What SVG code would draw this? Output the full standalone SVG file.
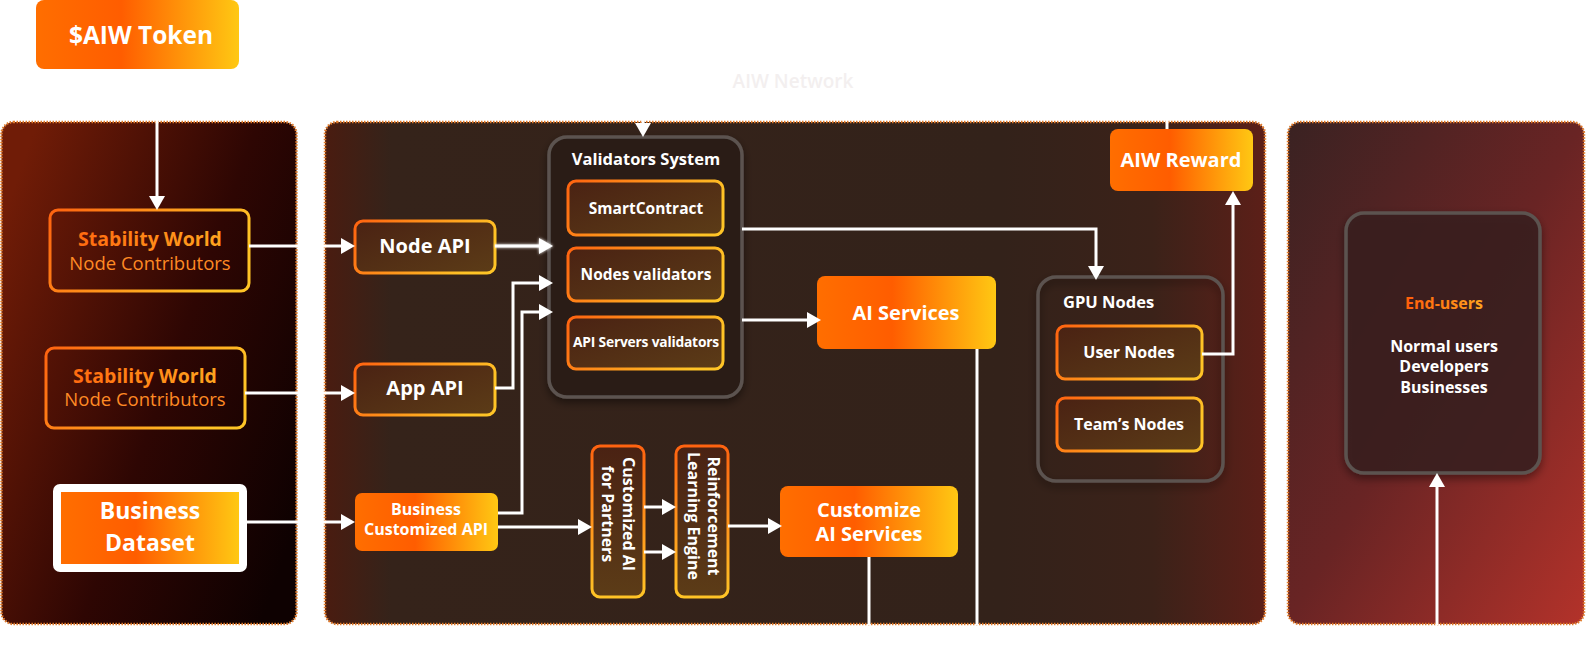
<svg xmlns="http://www.w3.org/2000/svg" width="1586" height="663" viewBox="0 0 1586 663">
<defs>
<linearGradient id="lp" x1="0" y1="0.2" x2="1" y2="0.8"><stop offset="0" stop-color="#701c07"/><stop offset="0.55" stop-color="#2e0603"/><stop offset="1" stop-color="#0e0101"/></linearGradient>
<linearGradient id="mp" x1="0" y1="0" x2="1" y2="0"><stop offset="0" stop-color="#4a1c10"/><stop offset="0.07" stop-color="#35231a"/><stop offset="0.72" stop-color="#33221a"/><stop offset="0.88" stop-color="#3b2219"/><stop offset="1" stop-color="#5c1f18"/></linearGradient>
<linearGradient id="rp" x1="0" y1="0" x2="1" y2="1"><stop offset="0" stop-color="#3a2222"/><stop offset="0.5" stop-color="#692424"/><stop offset="1" stop-color="#b3322a"/></linearGradient>
<linearGradient id="og" x1="0" y1="0" x2="1" y2="0"><stop offset="0" stop-color="#ff6e00"/><stop offset="0.42" stop-color="#ff5d00"/><stop offset="1" stop-color="#ffc813"/></linearGradient>
<linearGradient id="os" x1="0" y1="0" x2="1" y2="0.3"><stop offset="0" stop-color="#ff6310"/><stop offset="1" stop-color="#ffc426"/></linearGradient>
<linearGradient id="osv" x1="0" y1="0" x2="0" y2="1"><stop offset="0" stop-color="#ff6310"/><stop offset="1" stop-color="#ffc426"/></linearGradient>
<linearGradient id="df" x1="0" y1="0" x2="1" y2="1"><stop offset="0" stop-color="#4a2213"/><stop offset="1" stop-color="#5c3c17"/></linearGradient>
<linearGradient id="dfv" x1="0" y1="0" x2="0" y2="1"><stop offset="0" stop-color="#4a2213"/><stop offset="1" stop-color="#5c3c17"/></linearGradient>
<linearGradient id="tg" x1="0" y1="0" x2="1" y2="0"><stop offset="0" stop-color="#ff6a10"/><stop offset="1" stop-color="#ffa51f"/></linearGradient>
<linearGradient id="eg" x1="0" y1="0" x2="1" y2="0"><stop offset="0" stop-color="#ff5d0a"/><stop offset="1" stop-color="#ffa51f"/></linearGradient>
<filter id="sh" x="-20%" y="-20%" width="140%" height="140%"><feDropShadow dx="0" dy="4" stdDeviation="4" flood-color="#000" flood-opacity="0.45"/></filter>
<filter id="glow" filterUnits="userSpaceOnUse" x="485" y="228" width="80" height="36"><feGaussianBlur stdDeviation="1.5" result="b"/><feMerge><feMergeNode in="b"/><feMergeNode in="SourceGraphic"/></feMerge></filter>
<marker id="ah" markerUnits="userSpaceOnUse" markerWidth="16" markerHeight="18" refX="8" refY="8" orient="auto"><path d="M0,0 L14,8 L0,16 z" fill="#ffffff"/></marker>
<style>
.t{font-family:"Open Sans","Liberation Sans",sans-serif;}
.w{fill:#ffffff;font-weight:700;}
.c{text-anchor:middle;}
.panel{stroke:#e07a2a;stroke-width:2.5;stroke-dasharray:1.5 1.5;}
.ob{fill:url(#df);stroke:url(#os);stroke-width:3;}
.obv{fill:url(#dfv);stroke:url(#osv);stroke-width:3;}
.fb{fill:url(#og);}
.grp{stroke:#5b5350;stroke-width:3.5;}
.ln{fill:none;stroke:#ffffff;stroke-width:3;}
.ar{marker-end:url(#ah);}
</style>
</defs>
<rect width="1586" height="663" fill="#ffffff"/>
<text class="t c" x="793" y="88" font-size="19" font-weight="600" fill="#f3efef">AIW Network</text>

<g id="panels">
<rect id="panel-left" class="panel" x="1.5" y="122" width="295" height="502" rx="12" fill="url(#lp)"/>
<rect id="panel-middle" class="panel" x="325" y="122" width="940" height="502" rx="12" fill="url(#mp)"/>
<rect id="panel-right" class="panel" x="1288" y="122" width="296" height="502" rx="12" fill="url(#rp)"/>
</g>

<g id="token">
<rect class="fb" x="36" y="0" width="203" height="69" rx="8"/>
<text class="t c w" x="141" y="44" font-size="24.5">$AIW Token</text>
</g>

<g id="stability-1">
<rect x="50" y="210" width="199" height="81" rx="8" fill="none" stroke="url(#os)" stroke-width="3"/>
<text class="t c" x="150" y="246" font-size="19.5" font-weight="700" fill="url(#tg)">Stability World</text>
<text class="t c" x="150" y="270" font-size="18.5" fill="#ff8a24">Node Contributors</text>
</g>
<g id="stability-2">
<rect x="46" y="348" width="199" height="80" rx="8" fill="none" stroke="url(#os)" stroke-width="3"/>
<text class="t c" x="145" y="383" font-size="19.5" font-weight="700" fill="url(#tg)">Stability World</text>
<text class="t c" x="145" y="406" font-size="18.5" fill="#ff8a24">Node Contributors</text>
</g>
<g id="business-dataset">
<rect x="53" y="484" width="194" height="88" rx="7" fill="#ffffff"/>
<rect class="fb" x="61" y="492" width="178" height="72"/>
<text class="t c w" x="150" y="519" font-size="23">Business</text>
<text class="t c w" x="150" y="551" font-size="23">Dataset</text>
</g>

<g id="node-api">
<rect class="ob" x="355" y="221" width="140" height="52" rx="8"/>
<text class="t c w" x="425" y="253" font-size="20">Node API</text>
</g>
<g id="app-api">
<rect class="ob" x="355" y="364" width="140" height="51" rx="8"/>
<text class="t c w" x="425" y="395" font-size="20">App API</text>
</g>
<g id="business-api">
<rect class="fb" x="355" y="493" width="143" height="58" rx="7"/>
<text class="t c w" x="426" y="515" font-size="16">Business</text>
<text class="t c w" x="426" y="535" font-size="16">Customized API</text>
</g>

<g id="validators-system">
<rect class="grp" x="549" y="137" width="193" height="260" rx="18" fill="#2b1e18" filter="url(#sh)"/>
<text class="t c w" x="646" y="165" font-size="16.5">Validators System</text>
</g>
<g id="smartcontract">
<rect class="ob" x="568" y="181" width="155" height="54" rx="8"/>
<text class="t c w" x="646" y="214" font-size="15.5">SmartContract</text>
</g>
<g id="nodes-validators">
<rect class="ob" x="568" y="248" width="155" height="53" rx="8"/>
<text class="t c w" x="646" y="280" font-size="15.5">Nodes validators</text>
</g>
<g id="api-servers-validators">
<rect class="ob" x="568" y="317" width="155" height="52" rx="8"/>
<text class="t c w" x="646" y="347" font-size="13.8" letter-spacing="-0.2">API Servers validators</text>
</g>

<g id="customized-ai">
<rect class="obv" x="592" y="446" width="52" height="151" rx="8"/>
<text class="t c w" transform="translate(623,514) rotate(90)" font-size="16">Customized AI</text>
<text class="t c w" transform="translate(602,514) rotate(90)" font-size="16">for Partners</text>
</g>
<g id="reinforcement">
<rect class="obv" x="676" y="446" width="52" height="151" rx="8"/>
<text class="t c w" transform="translate(708,516) rotate(90)" font-size="16">Reinforcement</text>
<text class="t c w" transform="translate(688,516) rotate(90)" font-size="16">Learning Engine</text>
</g>

<g id="ai-services">
<rect class="fb" x="817" y="276" width="179" height="73" rx="8"/>
<text class="t c w" x="906" y="320" font-size="20">AI Services</text>
</g>
<g id="customize-ai-services">
<rect class="fb" x="780" y="486" width="178" height="71" rx="8"/>
<text class="t c w" x="869" y="517" font-size="20">Customize</text>
<text class="t c w" x="869" y="541" font-size="20">AI Services</text>
</g>

<g id="aiw-reward">
<rect class="fb" x="1110" y="129" width="143" height="62" rx="8"/>
<text class="t c w" x="1181" y="167" font-size="20">AIW Reward</text>
</g>

<g id="gpu-nodes">
<rect class="grp" x="1038" y="277" width="185" height="204" rx="18" fill="none" filter="url(#sh)"/>
<text class="t w" x="1063" y="308" font-size="16.5" font-weight="600">GPU Nodes</text>
</g>
<g id="user-nodes">
<rect class="ob" x="1057" y="326" width="145" height="53" rx="8"/>
<text class="t c w" x="1129" y="358" font-size="16">User Nodes</text>
</g>
<g id="teams-nodes">
<rect class="ob" x="1057" y="398" width="145" height="53" rx="8"/>
<text class="t c w" x="1129" y="430" font-size="16">Team’s Nodes</text>
</g>

<g id="end-users">
<rect class="grp" x="1346" y="213" width="194" height="260" rx="18" fill="#3a2222" fill-opacity="0.85" filter="url(#sh)"/>
<text class="t c" x="1444" y="309" font-size="16" font-weight="700" fill="url(#eg)">End-users</text>
<text class="t c w" x="1444" y="352" font-size="16">Normal users</text>
<text class="t c w" x="1444" y="372" font-size="16">Developers</text>
<text class="t c w" x="1444" y="393" font-size="16">Businesses</text>
</g>

<g id="connectors">
<path class="ln ar" d="M157,70 V204"/>
<path class="ln ar" d="M249,246 H349"/>
<path class="ln ar" d="M245,393 H349"/>
<path class="ln ar" d="M247,522 H349"/>
<path class="ln ar" d="M495,246 H547" filter="url(#glow)"/>
<path class="ln ar" d="M495,388 H513 V283 H547"/>
<path class="ln ar" d="M498,513 H522 V312 H547"/>
<path class="ln ar" d="M498,527 H586"/>
<path class="ln ar" d="M644,507 H670"/>
<path class="ln ar" d="M644,552 H670"/>
<path class="ln ar" d="M728,526 H776"/>
<path class="ln" d="M869,557 V625" stroke="#d8d4d2" stroke-width="2.5"/>
<path class="ln ar" d="M742,320 H815"/>
<path class="ln ar" d="M742,229 H1096 V274"/>
<path class="ln" d="M977,349 V625"/>
<path class="ln ar" d="M1202,354 H1233 V197"/>
<path class="ln" d="M1167,100 V129"/>
<path class="ln ar" d="M643,20 V131"/>
<path class="ln ar" d="M1437,625 V479"/>
</g>
</svg>
